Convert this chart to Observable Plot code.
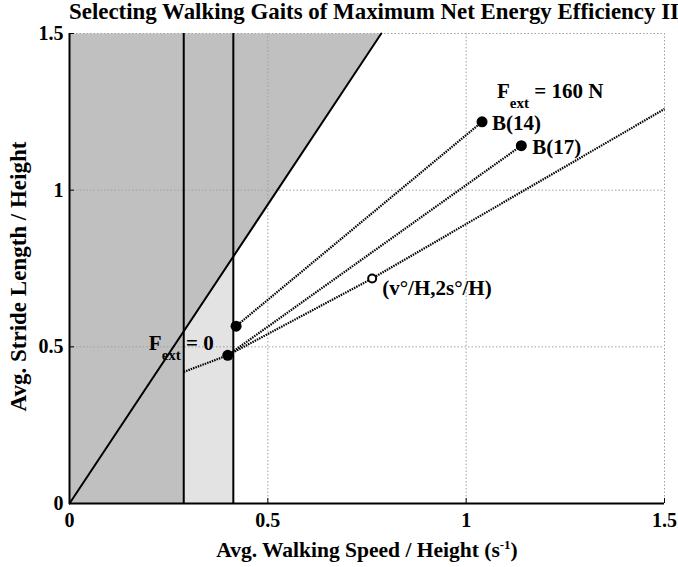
<!DOCTYPE html>
<html><head><meta charset="utf-8">
<script src="https://cdn.jsdelivr.net/npm/d3@7"></script>
<script src="https://cdn.jsdelivr.net/npm/@observablehq/plot@0.6"></script>
<style>
body{margin:0;background:#fff;}
#title{position:relative;z-index:1;font-family:"Liberation Serif",serif;font-weight:bold;font-size:22.9px;height:16px;line-height:24px;overflow:visible;width:595px;padding-left:69px;text-align:center;white-space:nowrap;}
</style></head><body>
<div id="title"></div>
<div id="chart"></div>
<script>
// ---- data ----
const titleText = "Selecting Walking Gaits of Maximum Net Energy Efficiency II";
const xLabel = "Avg. Walking Speed / Height (s^{-1})";
const yLabel = "Avg. Stride Length / Height";
const xTicks = [0, 0.5, 1, 1.5];
const yTicks = [0, 0.5, 1, 1.5];

// shaded regions (vertices)
const darkRegionV = [0, 0.288, 0.288, 0.786, 0];
const darkRegionS = [0, 0, 0.550, 1.5, 1.5];
const lightRegionV = [0.288, 0.413, 0.413, 0.288];
const lightRegionS = [0, 0, 0.788, 0.550];

// boundary lines
const diagonalV = [0, 0.786];
const diagonalS = [0, 1.5];
const verticalLimits = [0.288, 0.413];

// gait points
const pointNames = ["A14", "A17", "B(14)", "B(17)"];
const pointV = [0.420, 0.399, 1.040, 1.139];
const pointS = [0.566, 0.473, 1.218, 1.142];

// dotted path through (v°/H, 2s°/H)
const refPathV = [0.288, 0.399, 0.763, 1.5];
const refPathS = [0.420, 0.473, 0.718, 1.259];
const openPointV = [0.763];
const openPointS = [0.718];
const openPointLabel = "(v°/H,2s°/H)";

const fext0Label = "F_{ext} = 0";
const fext160Label = "F_{ext} = 160 N";

document.getElementById("title").textContent = titleText;

// ---- build tables ----
const dark = darkRegionV.map((v, i) => ({v, s: darkRegionS[i]}));
const light = lightRegionV.map((v, i) => ({v, s: lightRegionS[i]}));
const diag = diagonalV.map((v, i) => ({v, s: diagonalS[i]}));
const pts = pointNames.map((name, i) => ({name, v: pointV[i], s: pointS[i]}));
const seg14 = [pts[0], pts[2]];
const seg17 = [pts[1], pts[3]];
const refPath = refPathV.map((v, i) => ({v, s: refPathS[i]}));
const openPt = openPointV.map((v, i) => ({v, s: openPointS[i], label: openPointLabel}));

// rich text: _{sub} and ^{sup}
function richRender(index, scales, values, dims, ctx, next) {
  const g = next(index, scales, values, dims, ctx);
  d3.select(g).selectAll("text").each(function() {
    const s = this.textContent;
    if (!/[_^]\{/.test(s)) return;
    const t = d3.select(this);
    t.text(null);
    const re = /([_^])\{([^}]*)\}|([^_^]+)/g;
    let m, cur = 0;
    while ((m = re.exec(s))) {
      let target = 0, size = null, str = m[3];
      if (m[1] === "_") { target = 10; size = "15px"; str = m[2]; }
      else if (m[1] === "^") { target = -8; size = "13px"; str = m[2]; }
      const ts = t.append("tspan").text(str);
      if (target - cur !== 0) ts.attr("dy", target - cur);
      if (size) ts.attr("font-size", size);
      cur = target;
    }
  });
  return g;
}

const dotted = {stroke: "black", strokeWidth: 2.2, strokeDasharray: "1.5,1", strokeLinecap: "butt"};
const txt = {fontFamily: "Liberation Serif", fontWeight: "bold", fontSize: 21, fill: "black", lineAnchor: "middle"};
const grid = {stroke: "#a0a0a0", strokeOpacity: 1, strokeDasharray: "1.5,2", strokeWidth: 1};

const chart = Plot.plot({
  width: 678,
  height: 551,
  marginTop: 17,
  marginBottom: 64,
  marginLeft: 69,
  marginRight: 14,
  style: {fontFamily: "Liberation Serif", fontWeight: "bold", fontSize: "20px", background: "white"},
  x: {domain: [0, 1.5], label: null},
  y: {domain: [0, 1.5], label: null},
  marks: [
    Plot.line(dark, {x: "v", y: "s", fill: "#c0c0c0", stroke: "none"}),
    Plot.line(light, {x: "v", y: "s", fill: "#e3e3e3", stroke: "none"}),
    Plot.gridX(xTicks, grid),
    Plot.gridY(yTicks, grid),
    Plot.ruleX(verticalLimits, {stroke: "black", strokeWidth: 2}),
    Plot.line(diag, {x: "v", y: "s", stroke: "black", strokeWidth: 2}),
    Plot.line(seg14, {x: "v", y: "s", ...dotted}),
    Plot.line(seg17, {x: "v", y: "s", ...dotted}),
    Plot.line(refPath, {x: "v", y: "s", ...dotted}),
    Plot.dot(pts, {x: "v", y: "s", r: 5.5, fill: "black", stroke: "none"}),
    Plot.dot(openPt, {x: "v", y: "s", r: 4, fill: "white", stroke: "black", strokeWidth: 2}),
    Plot.ruleX([0], {stroke: "black", strokeWidth: 2}),
    Plot.ruleY([0], {stroke: "black", strokeWidth: 2}),
    // inward tick marks
    Plot.axisX(xTicks.slice(1), {tickSize: -5, tickFormat: () => "", label: null, stroke: "black"}),
    Plot.axisY(yTicks.slice(1), {tickSize: -5, tickFormat: () => "", label: null, stroke: "black"}),
    // tick labels
    Plot.axisX(xTicks, {tickSize: 0, tickPadding: 9, tickFormat: d => String(d), label: null, fontSize: 20, fontWeight: "bold"}),
    Plot.axisY(yTicks, {tickSize: 0, tickPadding: 6, tickFormat: d => String(d), label: null, fontSize: 20, fontWeight: "bold"}),
    // point labels
    Plot.text([pts[2]], {x: "v", y: "s", text: "name", textAnchor: "start", dx: 10, dy: 1, ...txt}),
    Plot.text([pts[3]], {x: "v", y: "s", text: "name", textAnchor: "start", dx: 11, dy: 2, ...txt}),
    Plot.text(openPt, {x: "v", y: "s", text: "label", textAnchor: "start", dx: 10, dy: 10, ...txt}),
    Plot.text([pts[2]], {x: "v", y: "s", text: () => fext160Label, textAnchor: "start", dx: 15, dy: -31, ...txt, render: richRender}),
    Plot.text([pts[1]], {x: "v", y: "s", text: () => fext0Label, textAnchor: "end", dx: -14, dy: -12, ...txt, render: richRender}),
    // axis titles
    Plot.text([xLabel], {frameAnchor: "bottom", dy: 47, text: d => d, ...txt, fontSize: 21.5, render: richRender}),
    Plot.text([yLabel], {frameAnchor: "left", textAnchor: "middle", dx: -51, dy: 8, rotate: -90, text: d => d, ...txt, fontSize: 23})
  ]
});
document.getElementById("chart").appendChild(chart);
</script></body></html>
